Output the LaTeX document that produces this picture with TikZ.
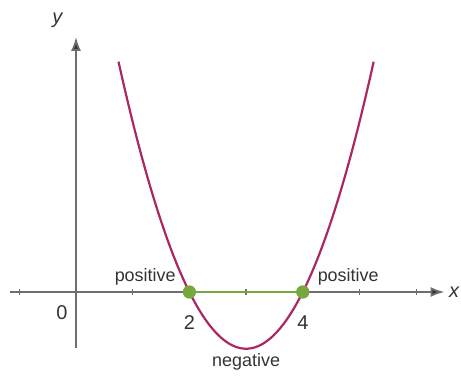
\documentclass[tikz,border=0pt]{standalone}
\usepackage{fontspec}
\setmainfont{Liberation Sans}
\usetikzlibrary{positioning,arrows.meta}
\definecolor{curvecol}{RGB}{172,38,98}
\definecolor{rootcol}{RGB}{118,168,62}
\definecolor{axiscol}{RGB}{110,110,110}
\begin{document}
\begin{tikzpicture}[
      axis/.style={draw=axiscol, line width=0.9pt},
      tick/.style={draw=axiscol, line width=0.6pt},
      root/.style={circle, fill=rootcol, minimum size=6.5pt, inner sep=0pt},
      signlabel/.style={font=\fontsize{9}{10}\selectfont, text=black!80},
      numlabel/.style={font=\fontsize{10}{12}\selectfont, text=black!80},
      >={Latex[length=7pt,width=5pt,fill=black!80]}
    ]
    \useasboundingbox (-1.34,-1.464) rectangle (6.79,5.15);

    %-----------------------------
    % 1) Axes
    %-----------------------------
    \coordinate (xstart) at (-1.16,0);
    \coordinate (xend) at (6.5,0);
    \coordinate (ystart) at (0,-0.98);
    \coordinate (yend) at (0,4.5);
    \draw[axis, ->] (xstart) -- (xend);
    \draw[axis, ->] (ystart) -- (yend);
    \node[numlabel, font=\itshape\fontsize{10}{12}\selectfont] (xlab) at (6.67,0) {x};
    \node[numlabel, font=\itshape\fontsize{10}{12}\selectfont] (ylab) at (-0.33,4.8) {y};
    % ticks
    \foreach \i in {-1,1,3,5,6} {
      \draw[tick] (\i,-0.05) -- (\i,0.06);
    }
    \node[numlabel] (zero) at (-0.25,-0.36) {0};

    %-----------------------------
    % 2) Parabola y=(x-2)(x-4)
    %-----------------------------
    \draw[curvecol, line width=1.1pt, domain=0.75:5.25, samples=80]
      plot (\x, {(\x-2)*(\x-4)});

    %-----------------------------
    % 3) Roots and sign labels
    %-----------------------------
    \node[root] (rootA) at (2,0) {};
    \node[root] (rootB) at (4,0) {};
    \draw[rootcol, line width=1.4pt] (rootA) -- (rootB);
    \node[root] at (2,0) {};
    \node[root] at (4,0) {};
    \node[numlabel, below=5pt of rootA] (two) {2};
    \node[numlabel, below=5pt of rootB] (four) {4};
    \node[signlabel] (posleft) at (1.22,0.27) {positive};
    \node[signlabel] (posright) at (4.8,0.27) {positive};
    \node[signlabel] (neg) at (3,-1.24) {negative};

  \end{tikzpicture}
\end{document}
